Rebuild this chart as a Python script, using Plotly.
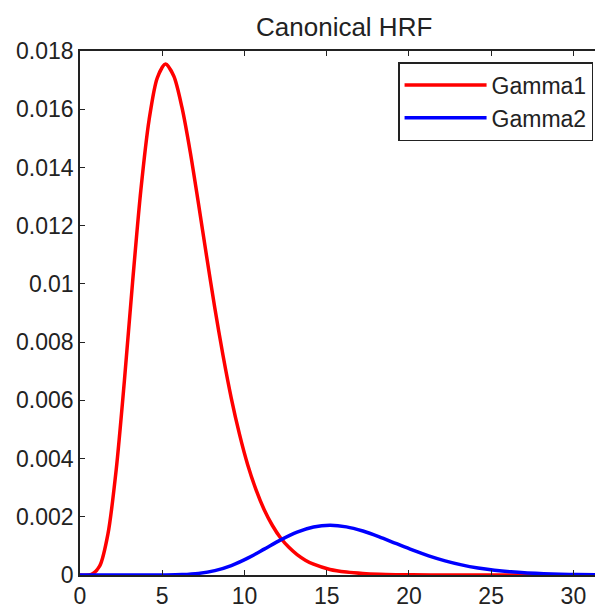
import plotly.graph_objects as go

# Data
t_gamma1 = [0, 0.7, 1.2, 1.7, 2.2, 2.7, 3.2, 3.7, 4.2, 4.7, 5.2, 5.7, 6.2, 6.7, 7.2, 7.7, 8.2, 8.7,
            9.2, 9.7, 10.2, 10.7, 11.2, 11.7, 12.2, 12.7, 13.2, 13.7, 14.2, 15.2, 16.2, 17.2, 18.2,
            19.2, 20.2, 22.2, 25.2, 28.2, 32]
gamma1 = [0, 0.00002, 0.00031, 0.00141, 0.00361, 0.00668, 0.01008, 0.01322, 0.01563, 0.01708,
          0.01755, 0.01714, 0.01606, 0.01454, 0.01277, 0.01094, 0.00916, 0.00753, 0.00607, 0.00483,
          0.00378, 0.00293, 0.00224, 0.0017, 0.00127, 0.00095, 0.0007, 0.00051, 0.00037, 0.00019,
          0.0001, 0.00005, 0.000024, 0.000012, 0.000006, 0.000001, 0, 0, 0]

t_gamma2 = [0, 5.2, 6.2, 7.2, 8.2, 9.2, 10.2, 11.2, 12.2, 13.2, 14.2, 15.2, 16.2, 17.2, 18.2, 19.2,
            20.2, 21.2, 22.2, 23.2, 24.2, 25.2, 26.2, 27.2, 28.2, 29.2, 30.2, 32]
gamma2 = [0, 0.000003, 0.000015, 0.000055, 0.00015, 0.000324, 0.000579, 0.000889, 0.001206,
          0.001474, 0.001649, 0.001707, 0.001654, 0.00151, 0.00131, 0.001084, 0.000861, 0.000658,
          0.000487, 0.000349, 0.000242, 0.000165, 0.000109, 0.000071, 0.000045, 0.000028,
          0.000017, 0.000006]

x_tickvals = [0, 5, 10, 15, 20, 25, 30]
x_ticktext = ["0", "5", "10", "15", "20", "25", "30"]
y_tickvals = [0, 0.002, 0.004, 0.006, 0.008, 0.01, 0.012, 0.014, 0.016, 0.018]
y_ticktext = ["0", "0.002", "0.004", "0.006", "0.008", "0.01", "0.012", "0.014", "0.016", "0.018"]

FONT = "Liberation Sans, Arial, Helvetica, sans-serif"
AX = "#222222"

fig = go.Figure()
fig.add_trace(go.Scatter(x=t_gamma1, y=gamma1, mode="lines", name="Gamma1",
                         line=dict(color="#ff0000", width=3.5, shape="spline", smoothing=0.8)))
fig.add_trace(go.Scatter(x=t_gamma2, y=gamma2, mode="lines", name="Gamma2",
                         line=dict(color="#0000ff", width=3.5, shape="spline", smoothing=0.8)))

# page body adds an 8px margin, so the figure is 8px smaller and shifted
fig.update_layout(
    width=595, height=600,
    margin=dict(l=72, r=0, t=43, b=33),
    paper_bgcolor="white", plot_bgcolor="white",
    font=dict(family=FONT, size=23, color="#222222"),
    title=dict(text="Canonical HRF", x=0.565, xanchor="center", y=0.968, yanchor="middle",
               font=dict(family=FONT, size=26, color="#222222")),
    showlegend=True,
    legend=dict(x=0.981, xanchor="right", y=0.979, yanchor="top",
                bgcolor="white", bordercolor="#222222", borderwidth=1.5,
                font=dict(family=FONT, size=23, color="#222222"),
                itemwidth=82, tracegroupgap=2),
)
fig.update_xaxes(range=[0, 31.8], tickvals=x_tickvals, ticktext=x_ticktext,
                 showgrid=False, zeroline=False, showline=True, linecolor=AX, linewidth=1.5,
                 mirror="ticks", ticks="inside", ticklen=5, tickcolor=AX, tickwidth=1.2)
fig.update_yaxes(range=[0, 0.018], tickvals=y_tickvals, ticktext=y_ticktext,
                 showgrid=False, zeroline=False, showline=True, linecolor=AX, linewidth=1.5,
                 ticks="inside", ticklen=5, tickcolor=AX, tickwidth=1.2)

fig.write_html("out.html")
